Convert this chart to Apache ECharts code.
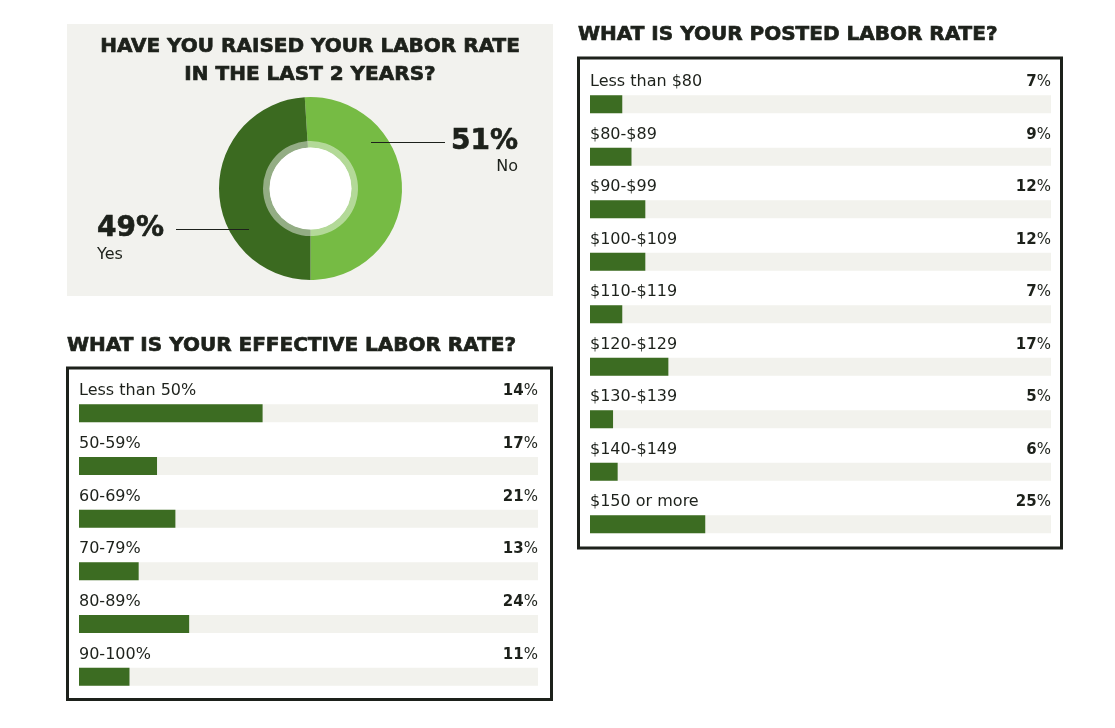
<!DOCTYPE html>
<html>
<head>
<meta charset="utf-8">
<script src="https://cdn.jsdelivr.net/npm/echarts@6/dist/echarts.min.js"></script>
<style>
  html, body { margin: 0; padding: 0; background: #fff; }
  #c { width: 1115px; height: 728px; }
</style>
</head>
<body>
<div id="c"></div>
<script>
// raised labor rate (donut)
var raisedNames = ['No', 'Yes'];
var raisedPct = [51, 49];

// effective labor rate
var effCats = ['Less than 50%', '50-59%', '60-69%', '70-79%', '80-89%', '90-100%'];
var effPct = [14, 17, 21, 13, 24, 11];          // printed labels
var effBar = [40, 17, 21, 13, 24, 11];          // bar lengths as drawn in the picture

// posted labor rate
var postCats = ['Less than $80', '$80-$89', '$90-$99', '$100-$109', '$110-$119', '$120-$129', '$130-$139', '$140-$149', '$150 or more'];
var postPct = [7, 9, 12, 12, 7, 17, 5, 6, 25];

var ink = '#1d211b';
var barGreen = '#3c6c22';
var track = '#f2f2ed';
var font = 'DejaVu Sans';
var titleFont = 'bold 20px "DejaVu Sans"';
var bigFont = 'bold 28px "DejaVu Sans"';

function pctRich(v) { return '{b|' + v + '}{r|%}'; }

function barSeries(idx, cats, bars, pcts) {
    return [{
        type: 'bar',
        xAxisIndex: idx, yAxisIndex: idx,
        data: bars,
        barWidth: 18,
        itemStyle: { color: barGreen },
        showBackground: true,
        backgroundStyle: { color: track },
        silent: true,
        label: {
            show: true,
            position: [0, -13],
            align: 'left',
            verticalAlign: 'middle',
            color: ink,
            fontFamily: font,
            fontSize: 16,
            formatter: function (p) { return cats[p.dataIndex]; }
        }
    }, {
        type: 'scatter',
        xAxisIndex: idx, yAxisIndex: idx,
        symbolSize: 0,
        silent: true,
        itemStyle: { opacity: 1, color: ink },
        data: pcts.map(function (v, i) { return [100, i]; }),
        label: {
            show: true,
            position: 'left',
            distance: 0,
            offset: [0, -22],
            align: 'right',
            verticalAlign: 'middle',
            color: ink,
            formatter: function (p) { return pctRich(pcts[p.dataIndex]); },
            rich: {
                b: { fontFamily: font, fontSize: 15, fontWeight: 'bold', color: ink },
                r: { fontFamily: font, fontSize: 15, color: ink }
            }
        }
    }];
}

function title(x, y, text, align) {
    return { type: 'text', x: x, y: y, style: { text: text, fill: ink, font: titleFont, align: align, verticalAlign: 'middle', stroke: ink, lineWidth: 0.7 } };
}

var chart = echarts.init(document.getElementById('c'), null, { renderer: 'canvas' });

var cx = 310.5, cy = 188.5;

chart.setOption({
    backgroundColor: '#ffffff',
    animation: false,
    graphic: [
        { type: 'rect', z: -10, shape: { x: 67, y: 24, width: 486, height: 272 }, style: { fill: '#f2f2ee' } },
        title(310, 47, 'HAVE YOU RAISED YOUR LABOR RATE', 'center'),
        title(310, 75, 'IN THE LAST 2 YEARS?', 'center'),
        // No annotation
        { type: 'line', z: 20, shape: { x1: 371, y1: 142.5, x2: 445, y2: 142.5 }, style: { stroke: ink, lineWidth: 1 } },
        { type: 'text', z: 20, x: 518, y: 142, style: { text: raisedPct[0] + '%', fill: ink, font: bigFont, align: 'right', verticalAlign: 'middle', stroke: ink, lineWidth: 0.6 } },
        { type: 'text', z: 20, x: 518, y: 167, style: { text: raisedNames[0], fill: ink, font: '16px "DejaVu Sans"', align: 'right', verticalAlign: 'middle' } },
        // Yes annotation
        { type: 'line', z: 20, shape: { x1: 176, y1: 229.5, x2: 249, y2: 229.5 }, style: { stroke: ink, lineWidth: 1 } },
        { type: 'text', z: 20, x: 97, y: 229, style: { text: raisedPct[1] + '%', fill: ink, font: bigFont, align: 'left', verticalAlign: 'middle', stroke: ink, lineWidth: 0.6 } },
        { type: 'text', z: 20, x: 97, y: 255, style: { text: raisedNames[1], fill: ink, font: '16px "DejaVu Sans"', align: 'left', verticalAlign: 'middle' } },

        // effective panel
        title(67, 346, 'WHAT IS YOUR EFFECTIVE LABOR RATE?', 'left'),
        { type: 'rect', z: -5, shape: { x: 67.5, y: 368, width: 484, height: 331.5 }, style: { fill: 'none', stroke: ink, lineWidth: 3 } },

        // posted panel
        title(578, 34.5, 'WHAT IS YOUR POSTED LABOR RATE?', 'left'),
        { type: 'rect', z: -5, shape: { x: 578.5, y: 58, width: 483, height: 490 }, style: { fill: 'none', stroke: ink, lineWidth: 3 } }
    ],
    grid: [
        { left: 79, width: 459, top: 387, height: 316 },
        { left: 590, width: 461, top: 78, height: 472.5 }
    ],
    xAxis: [
        { gridIndex: 0, type: 'value', min: 0, max: 100, show: false },
        { gridIndex: 1, type: 'value', min: 0, max: 100, show: false }
    ],
    yAxis: [
        { gridIndex: 0, type: 'category', data: effCats, inverse: true, show: false },
        { gridIndex: 1, type: 'category', data: postCats, inverse: true, show: false }
    ],
    series: [
        {
            type: 'pie',
            center: [cx, cy],
            radius: [41, 91.5],
            startAngle: 93.6,
            silent: true,
            label: { show: false },
            labelLine: { show: false },
            data: [
                { name: raisedNames[0], value: raisedPct[0], itemStyle: { color: '#76bb44' } },
                { name: raisedNames[1], value: raisedPct[1], itemStyle: { color: '#3b6a20' } }
            ]
        },
        {
            type: 'pie',
            center: [cx, cy],
            radius: [41, 47.5],
            startAngle: 93.6,
            silent: true,
            z: 3,
            label: { show: false },
            labelLine: { show: false },
            itemStyle: { color: 'rgba(255,255,255,0.45)' },
            data: raisedPct.map(function (v, i) { return { name: raisedNames[i], value: v }; })
        },
        {
            type: 'pie',
            center: [cx, cy],
            radius: [0, 41],
            silent: true,
            z: 3,
            label: { show: false },
            labelLine: { show: false },
            itemStyle: { color: '#ffffff' },
            data: [{ name: 'hole', value: 1 }]
        }
    ].concat(barSeries(0, effCats, effBar, effPct))
     .concat(barSeries(1, postCats, postPct, postPct))
});
</script>
</body>
</html>
